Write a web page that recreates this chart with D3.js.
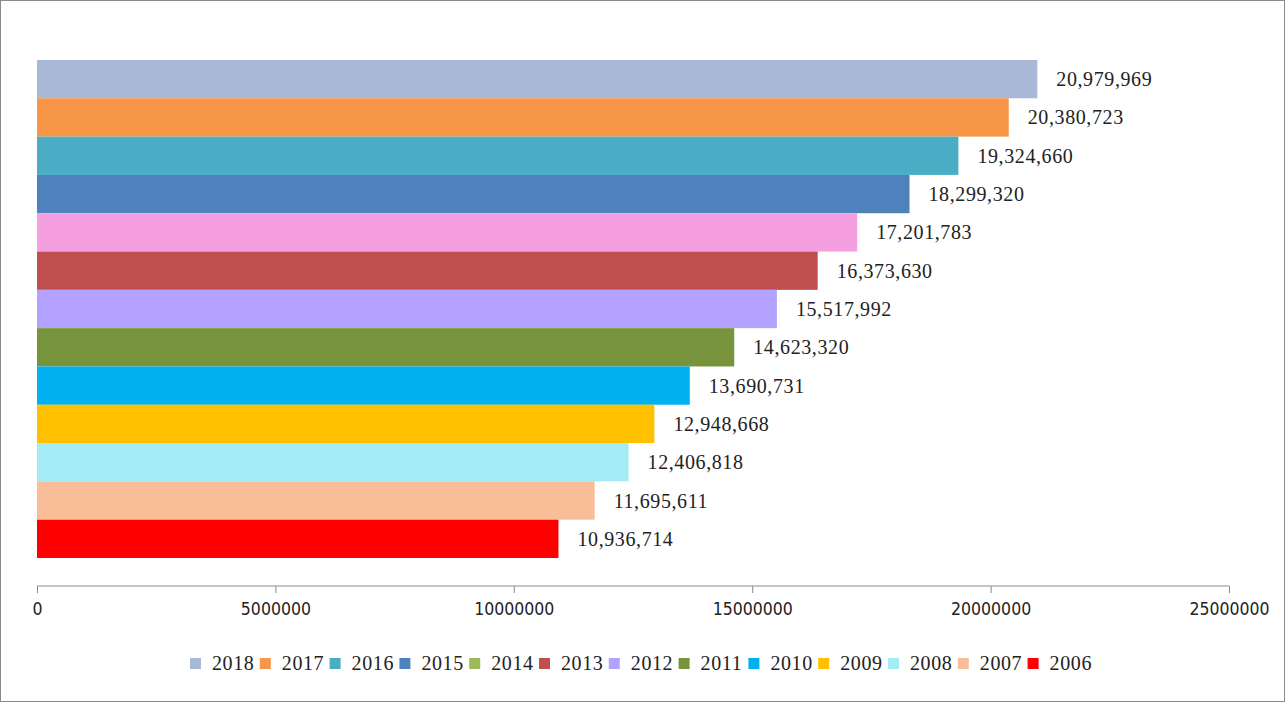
<!DOCTYPE html>
<html>
<head>
<meta charset="utf-8">
<script src="https://cdn.jsdelivr.net/npm/d3@7"></script>
<style>
  body { margin: 0; background: #fff; }
  .axis text { font-family: "DejaVu Sans Condensed", "DejaVu Sans", sans-serif; font-size: 17.5px; fill: #222; }
  .axis path, .axis line { stroke: #8c8c8c; }
  .lbl { font-family: "Liberation Serif", serif; font-size: 20px; fill: #222; letter-spacing: 0.6px; }
</style>
</head>
<body>
<svg id="chart" width="1285" height="702"></svg>
<script>
// data
const years = ["2018", "2017", "2016", "2015", "2014", "2013", "2012", "2011", "2010", "2009", "2008", "2007", "2006"];
const values = [20979969, 20380723, 19324660, 18299320, 17201783, 16373630, 15517992, 14623320, 13690731, 12948668, 12406818, 11695611, 10936714];
const barColors = ["#a9b8d7", "#f79646", "#4bacc6", "#4f81bd", "#f59fe0", "#c0504d", "#b3a2ff", "#77933c", "#00b0f0", "#ffc000", "#a3ecf5", "#f9be98", "#ff0000"];
const legendColors = ["#a9b8d7", "#f79646", "#4bacc6", "#4f81bd", "#9bbb59", "#c0504d", "#b3a2ff", "#77933c", "#00b0f0", "#ffc000", "#a3ecf5", "#f9be98", "#ff0000"];
const xTicks = [0, 5000000, 10000000, 15000000, 20000000, 25000000];

const svg = d3.select("#chart");

// outer frame
svg.append("rect")
    .attr("x", 0.5).attr("y", 0.5)
    .attr("width", 1284).attr("height", 701)
    .attr("fill", "#fff")
    .attr("stroke", "#8a8a8a");

const xScale = d3.scaleLinear().domain([0, 25000000]).range([37, 1229]);
const yScale = d3.scaleBand().domain(years).range([60, 558]).padding(0);

svg.selectAll(".bar")
    .data(years)
    .enter()
    .append("rect")
    .attr("class", "bar")
    .attr("x", xScale(0))
    .attr("y", d => yScale(d))
    .attr("width", (d, i) => xScale(values[i]) - xScale(0))
    .attr("height", yScale.bandwidth())
    .attr("fill", (d, i) => barColors[i]);

svg.selectAll(".lbl")
    .data(years)
    .enter()
    .append("text")
    .attr("class", "lbl")
    .attr("x", (d, i) => xScale(values[i]) + 19)
    .attr("y", d => yScale(d) + yScale.bandwidth() / 2 + 7)
    .text((d, i) => d3.format(",")(values[i]));

// bottom axis
const axis = svg.append("g")
    .attr("class", "axis")
    .attr("transform", "translate(0,586)")
    .call(d3.axisBottom(xScale).tickValues(xTicks).tickFormat(d => d).tickSize(7).tickSizeOuter(0));
axis.select(".domain").attr("d", "M" + xScale(0) + ",0H" + xScale(25000000));
axis.selectAll("text").attr("dy", "1.1em");

// legend
const legend = svg.append("g").attr("transform", "translate(190,663)");
const item = legend.selectAll("g")
    .data(years)
    .enter()
    .append("g")
    .attr("transform", (d, i) => "translate(" + (i * 69.8) + ",0)");
item.append("rect")
    .attr("x", 0).attr("y", -5)
    .attr("width", 11).attr("height", 11)
    .attr("fill", (d, i) => legendColors[i]);
item.append("text")
    .attr("class", "lbl")
    .attr("x", 22)
    .attr("y", 7)
    .text(d => d);
</script>
</body>
</html>
